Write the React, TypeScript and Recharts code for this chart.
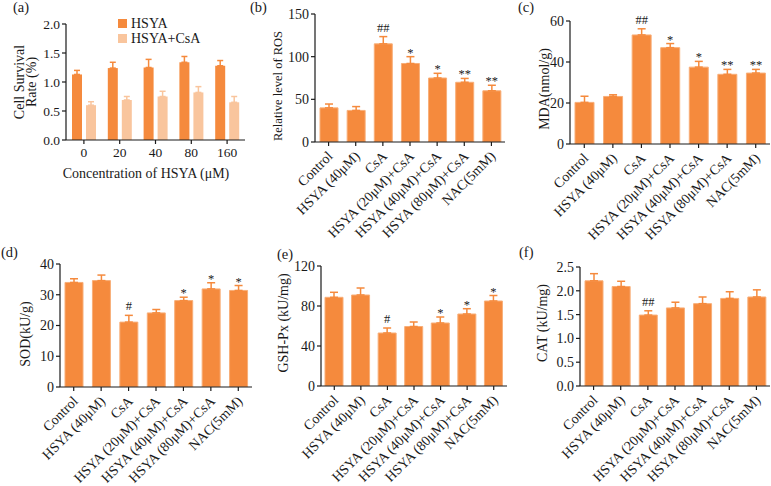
import React from "react";
import { BarChart, Bar, XAxis, YAxis, ErrorBar, LabelList, Label, Legend } from "recharts";

const FONT = "'Liberation Serif', 'Times New Roman', serif";
const ORANGE = "#F58A3D";
const LIGHT = "#F9C59D";
const EDGE = "#F8AE78";
const INK = "#1a1a1a";

// ---- Panel (a) data ----
const concentrations = ["0", "20", "40", "80", "160"];
const hsyaSurvival = [1.13, 1.24, 1.25, 1.34, 1.28];
const hsyaSurvivalErr = [0.07, 0.1, 0.14, 0.1, 0.09];
const hsyaCsaSurvival = [0.6, 0.69, 0.75, 0.82, 0.65];
const hsyaCsaSurvivalErr = [0.06, 0.06, 0.09, 0.1, 0.1];

// ---- Groups for panels (b)-(f) ----
const groups = [
  "Control",
  "HSYA (40μM)",
  "CsA",
  "HSYA (20μM)+CsA",
  "HSYA (40μM)+CsA",
  "HSYA (80μM)+CsA",
  "NAC(5mM)",
];

const rosValues = [40, 37, 115, 92, 75, 70, 60];
const rosErrors = [4.5, 4.5, 8.5, 8, 5.5, 4.5, 6.5];
const rosMarks = ["", "", "##", "*", "*", "**", "**"];

const mdaValues = [20.3, 23.2, 53.2, 47, 37.5, 34, 34.6];
const mdaErrors = [3, 0.8, 3, 2, 2.8, 2.4, 1.8];
const mdaMarks = ["", "", "##", "*", "*", "**", "**"];

const sodValues = [34, 34.6, 21.1, 24.1, 28.1, 31.9, 31.4];
const sodErrors = [1.2, 1.8, 2.2, 1.1, 1.1, 2.0, 1.6];
const sodMarks = ["", "", "#", "", "*", "*", "*"];

const gshValues = [88.7, 91, 53, 59.5, 63, 72, 85];
const gshErrors = [5, 7, 5, 4.5, 6, 5.3, 5.5];
const gshMarks = ["", "", "#", "", "*", "*", "*"];

const catValues = [2.21, 2.09, 1.49, 1.64, 1.73, 1.84, 1.87];
const catErrors = [0.15, 0.11, 0.09, 0.12, 0.14, 0.14, 0.15];
const catMarks = ["", "", "##", "", "", "", ""];

const survivalTicks = [0, 0.5, 1, 1.5, 2];
const rosTicks = [0, 50, 100, 150];
const mdaTicks = [0, 20, 40, 60];
const sodTicks = [0, 10, 20, 30, 40];
const gshTicks = [0, 40, 80, 120];
const catTicks = [0, 0.5, 1, 1.5, 2, 2.5];

const survivalRows = concentrations.map((c, i) => ({
  name: c,
  hsya: hsyaSurvival[i],
  hsyaErr: [0, hsyaSurvivalErr[i]],
  combo: hsyaCsaSurvival[i],
  comboErr: [0, hsyaCsaSurvivalErr[i]],
}));

const axisTickA = { fontSize: 13.5, fontFamily: FONT, fill: INK };
const axisTick = { fontSize: 14, fontFamily: FONT, fill: INK };

const SlantTick = (props: any) => {
  const { x, y, payload } = props;
  return (
    <g transform={`translate(${x + 5},${y + 9})`}>
      <text x={0} y={0} textAnchor="end" transform="rotate(-45)" fontSize={14} fontFamily={FONT} fill={INK}>
        {payload.value}
      </text>
    </g>
  );
};

function makeMarkRenderer(values: number[], errors: number[], marks: string[]) {
  return (props: any) => {
    const { x, y, width, height, value } = props;
    const i = Number(value);
    const mark = marks[i];
    if (!mark) return null;
    const px = Math.abs(height) / values[i];
    const errTop = y - errors[i] * px;
    const isHash = mark.indexOf("#") >= 0;
    return (
      <text
        x={x + width / 2}
        y={errTop - (isHash ? 5 : 0)}
        textAnchor="middle"
        fontSize={12.5}
        fontFamily={FONT}
        fill={INK}
      >
        {mark}
      </text>
    );
  };
}

type PanelProps = {
  left: number;
  top: number;
  width: number;
  height: number;
  yAxisWidth: number;
  margin: { top: number; right: number; bottom: number; left: number };
  values: number[];
  errors: number[];
  marks: string[];
  domain: [number, number];
  ticks: number[];
  decimals: number;
  title: string;
  titleX: number;
  titleY: number;
  titleSize: number;
  barSize: number;
};

const GroupPanel = (p: PanelProps) => {
  const rows = groups.map((g, i) => ({ name: g, value: p.values[i], err: [0, p.errors[i]], i }));
  return (
    <div style={{ position: "absolute", left: p.left, top: p.top }}>
      <BarChart width={p.width} height={p.height} data={rows} margin={p.margin}>
        <XAxis
          dataKey="name"
          interval={0}
          tick={<SlantTick />}
          tickSize={4}
          tickMargin={2}
          height={100}
          stroke={INK}
          strokeWidth={1.2}
        />
        <YAxis
          width={p.yAxisWidth}
          domain={p.domain}
          ticks={p.ticks}
          tick={axisTick}
          tickSize={4}
          tickMargin={2}
          stroke={INK}
          strokeWidth={1.2}
          tickFormatter={(v: number) => v.toFixed(p.decimals)}
          allowDataOverflow
        >
          <Label
            content={() => (
              <text
                x={p.titleX}
                y={p.titleY}
                transform={`rotate(-90 ${p.titleX} ${p.titleY})`}
                textAnchor="middle"
                fontSize={p.titleSize}
                fontFamily={FONT}
                fill={INK}
              >
                {p.title}
              </text>
            )}
          />
        </YAxis>
        <Bar dataKey="value" fill={ORANGE} stroke={EDGE} strokeWidth={1} barSize={p.barSize} isAnimationActive={false}>
          <ErrorBar dataKey="err" width={4} stroke={ORANGE} strokeWidth={1.5} direction="y" />
          <LabelList dataKey="i" content={makeMarkRenderer(p.values, p.errors, p.marks)} />
        </Bar>
      </BarChart>
    </div>
  );
};

const renderLegendA = (props: any) => (
  <div style={{ fontFamily: FONT, fontSize: 14, color: INK, lineHeight: "15px" }}>
    {(props.payload || []).map((e: any) => (
      <div key={e.value} style={{ display: "flex", alignItems: "center", height: 15 }}>
        <span style={{ width: 9, height: 9, background: e.color, marginRight: 4, display: "inline-block" }} />
        <span>{e.value}</span>
      </div>
    ))}
  </div>
);

const SurvivalPanel = () => (
  <div style={{ position: "absolute", left: 0, top: 0 }}>
    <BarChart
      width={255}
      height={200}
      data={survivalRows}
      margin={{ top: 24, right: 10, bottom: 10, left: 0 }}
      barGap={4}
    >
      <XAxis dataKey="name" tick={axisTickA} tickSize={4} tickMargin={3} height={50} stroke={INK} strokeWidth={1.2}>
        <Label
          content={() => (
            <text x={146} y={178} textAnchor="middle" fontSize={14} fontFamily={FONT} fill={INK}>
              Concentration of HSYA (μM)
            </text>
          )}
        />
      </XAxis>
      <YAxis
        width={66}
        domain={[0, 2]}
        ticks={survivalTicks}
        tick={axisTickA}
        tickSize={4}
        tickMargin={2}
        stroke={INK}
        strokeWidth={1.2}
        tickFormatter={(v: number) => v.toFixed(1)}
      >
        <Label
          content={() => (
            <g>
              <text x={24} y={82} transform="rotate(-90 24 82)" textAnchor="middle" fontSize={14} fontFamily={FONT} fill={INK}>
                Cell Survival
              </text>
              <text x={36} y={82} transform="rotate(-90 36 82)" textAnchor="middle" fontSize={14} fontFamily={FONT} fill={INK}>
                Rate (%)
              </text>
            </g>
          )}
        />
      </YAxis>
      <Legend
        layout="vertical"
        align="center"
        verticalAlign="middle"
        wrapperStyle={{ left: 118, top: 16, width: "auto", height: "auto" }}
        content={renderLegendA}
      />
      <Bar dataKey="hsya" name="HSYA" fill={ORANGE} barSize={10} isAnimationActive={false}>
        <ErrorBar dataKey="hsyaErr" width={3} stroke={ORANGE} strokeWidth={1.5} direction="y" />
      </Bar>
      <Bar dataKey="combo" name="HSYA+CsA" fill={LIGHT} barSize={10} isAnimationActive={false}>
        <ErrorBar dataKey="comboErr" width={3} stroke={LIGHT} strokeWidth={1.5} direction="y" />
      </Bar>
    </BarChart>
  </div>
);

const tags = [
  { t: "(a)", x: 13, y: 12 },
  { t: "(b)", x: 250, y: 12 },
  { t: "(c)", x: 518, y: 12 },
  { t: "(d)", x: 1, y: 257 },
  { t: "(e)", x: 277, y: 259 },
  { t: "(f)", x: 519, y: 257 },
];

export default function App() {
  return (
    <div style={{ position: "absolute", left: 0, top: 0, width: 771, height: 486, background: "#fff", overflow: "hidden" }}>
      <svg width={771} height={486} style={{ position: "absolute", left: 0, top: 0 }}>
        {tags.map((g) => (
          <text key={g.t} x={g.x} y={g.y} fontSize={14.5} fontFamily={FONT} fill={INK}>
            {g.t}
          </text>
        ))}
      </svg>
      <SurvivalPanel />
      <GroupPanel
        left={255} top={0} width={252} height={250} yAxisWidth={60}
        margin={{ top: 14, right: 2, bottom: 8, left: 0 }}
        values={rosValues} errors={rosErrors} marks={rosMarks}
        domain={[0, 150]} ticks={rosTicks} decimals={0}
        title="Relative level of ROS" titleX={27} titleY={86} titleSize={12.5} barSize={18}
      />
      <GroupPanel
        left={505} top={0} width={266} height={250} yAxisWidth={65}
        margin={{ top: 21, right: 1, bottom: 6, left: 0 }}
        values={mdaValues} errors={mdaErrors} marks={mdaMarks}
        domain={[0, 60]} ticks={mdaTicks} decimals={0}
        title="MDA(nmol/g)" titleX={44} titleY={89} titleSize={14} barSize={19}
      />
      <GroupPanel
        left={0} top={240} width={255} height={256} yAxisWidth={60}
        margin={{ top: 24, right: 3, bottom: 9, left: 0 }}
        values={sodValues} errors={sodErrors} marks={sodMarks}
        domain={[0, 40]} ticks={sodTicks} decimals={0}
        title="SOD(kU/g)" titleX={30} titleY={94} titleSize={14} barSize={18}
      />
      <GroupPanel
        left={255} top={240} width={255} height={256} yAxisWidth={66}
        margin={{ top: 26, right: 3, bottom: 10, left: 0 }}
        values={gshValues} errors={gshErrors} marks={gshMarks}
        domain={[0, 120]} ticks={gshTicks} decimals={0}
        title="GSH-Px (kU/mg)" titleX={33} titleY={83} titleSize={14} barSize={18}
      />
      <GroupPanel
        left={505} top={240} width={266} height={256} yAxisWidth={75}
        margin={{ top: 27, right: 1, bottom: 10, left: 0 }}
        values={catValues} errors={catErrors} marks={catMarks}
        domain={[0, 2.5]} ticks={catTicks} decimals={1}
        title="CAT (kU/mg)" titleX={42} titleY={83} titleSize={14} barSize={18}
      />
    </div>
  );
}
